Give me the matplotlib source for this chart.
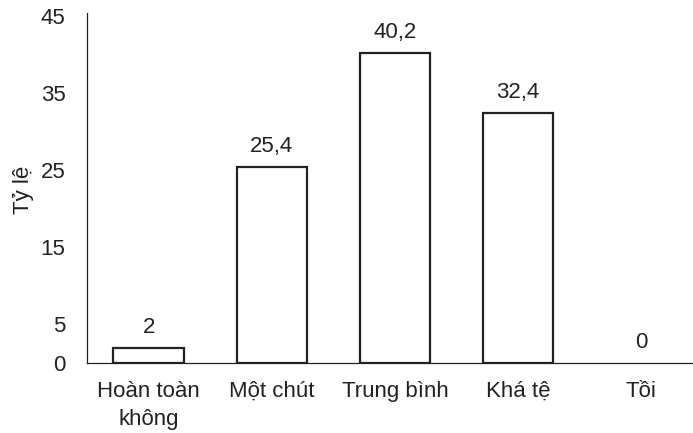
import matplotlib
matplotlib.use("Agg")
import matplotlib.pyplot as plt

categories = ["Hoàn toàn\nkhông", "Một chút", "Trung bình", "Khá tệ", "Tồi"]
values = [2, 25.4, 40.2, 32.4, 0]
value_labels = ["2", "25,4", "40,2", "32,4", "0"]
yticks = [0, 5, 15, 25, 35, 45]

plt.rcParams['font.family'] = ['Liberation Sans', 'DejaVu Sans']
FS = 16

fig = plt.figure(figsize=(6.93, 4.33), dpi=100)
ax = fig.add_axes([87/693, 1 - 363/433, 1 - 87/693, (363 - 16)/433])

x = range(len(categories))
edge = ['#222222' if v > 0 else 'none' for v in values]
ax.bar(x, values, width=0.57, facecolor='white', edgecolor=edge, linewidth=1.6)

for xi, v, lab in zip(x, values, value_labels):
    ax.annotate(lab, (xi, v), xytext=(0, 7), textcoords='offset points',
                ha='center', va='bottom', fontsize=FS, color='#222222')

ax.set_xlim(-0.5, 4.42)
ax.set_ylim(0, 45)
ax.set_yticks(yticks)
ax.set_xticks(list(x))
ax.set_xticklabels(categories, linespacing=1.45)
ax.tick_params(axis='y', length=0, pad=15.5, labelsize=FS, colors='#222222')
ax.tick_params(axis='x', length=0, pad=13, labelsize=FS, colors='#222222')
for s in ['top', 'right']:
    ax.spines[s].set_visible(False)
for s in ['left', 'bottom']:
    ax.spines[s].set_linewidth(0.9)
    ax.spines[s].set_color('#222222')
ax.spines['left'].set_bounds(0, 45.4)
ax.set_ylabel("Tỷ lệ", fontsize=FS, color='#222222', labelpad=5)

fig.savefig("out.png", dpi=100)
